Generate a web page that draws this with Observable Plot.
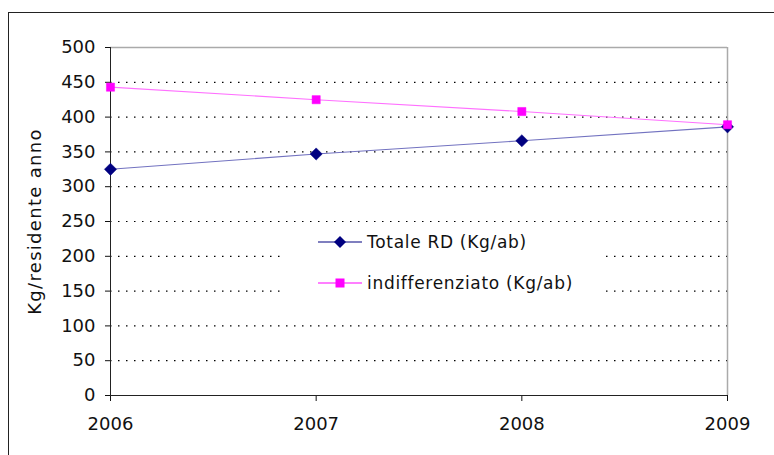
<!DOCTYPE html>
<html>
<head>
<meta charset="utf-8">
<script src="https://cdn.jsdelivr.net/npm/d3@7"></script>
<script src="https://cdn.jsdelivr.net/npm/@observablehq/plot@0.6"></script>
<style>
  html, body { margin: 0; padding: 0; background: #fff; overflow: hidden; }
  #wrap { position: relative; width: 774px; height: 455px; overflow: hidden; }
  #frame { position: absolute; left: 8px; top: 12px; width: 800px; height: 500px; border: 1.5px solid #222; box-sizing: border-box; pointer-events: none; }
  #legend { position: absolute; left: 280px; top: 222px; width: 322px; height: 76px; background: #fff; font-family: "DejaVu Sans", Verdana, sans-serif; font-size: 17px; color: #111; letter-spacing: 0.7px; }
  .item { position: absolute; left: 38px; display: flex; align-items: center; }
  .item svg { margin-right: 5px; }
</style>
</head>
<body>
<div id="wrap">
  <div id="chart"></div>
  <div id="legend"></div>
  <div id="frame"></div>
</div>
<script>
const years = [2006, 2007, 2008, 2009];
const totaleRD = [325, 347, 366, 386];
const indifferenziato = [443, 425, 408, 389];
const seriesNames = ["Totale RD (Kg/ab)", "indifferenziato (Kg/ab)"];
const yTicks = [0, 50, 100, 150, 200, 250, 300, 350, 400, 450, 500];
const gridTicks = [50, 100, 150, 200, 250, 300, 350, 400, 450];

const blue = years.map((y, i) => ({year: y, value: totaleRD[i]}));
const pink = years.map((y, i) => ({year: y, value: indifferenziato[i]}));

const chart = Plot.plot({
  width: 774,
  height: 455,
  marginLeft: 110,
  marginRight: 47,
  marginTop: 47,
  marginBottom: 60,
  style: {fontFamily: "'DejaVu Sans', Verdana, sans-serif", fontSize: "18px", color: "#111", background: "transparent"},
  x: {type: "linear", domain: [2006, 2009]},
  y: {domain: [0, 500]},
  marks: [
    Plot.ruleY(gridTicks, {stroke: "#000", strokeWidth: 1.2, strokeDasharray: "1.5,6.5"}),
    Plot.ruleY([500], {stroke: "#aaa", strokeWidth: 1.5}),
    Plot.ruleX([2009], {stroke: "#aaa", strokeWidth: 1.5}),
    Plot.axisY({ticks: yTicks, tickSize: 5, tickPadding: 10, label: "Kg/residente anno", labelAnchor: "center", labelArrow: "none", labelOffset: 82, fontSize: 18}),
    Plot.axisX({ticks: years, tickFormat: "d", tickSize: 6, tickPadding: 16, label: null, fontSize: 18}),
    Plot.ruleY([0], {stroke: "#222", strokeWidth: 1}),
    Plot.ruleX([2006], {stroke: "#222", strokeWidth: 1}),
    Plot.line(pink, {x: "year", y: "value", stroke: "#ff70ff", strokeWidth: 1.1}),
    Plot.line(blue, {x: "year", y: "value", stroke: "#7272c0", strokeWidth: 1.1}),
    Plot.dot(blue, {x: "year", y: "value", symbol: "diamond2", r: 5.5, fill: "#000080", stroke: "#000080", strokeWidth: 0.5}),
    Plot.dot(pink, {x: "year", y: "value", symbol: "square2", r: 5.2, fill: "#ff00ff", stroke: "#ff00ff", strokeWidth: 0.5})
  ]
});
d3.select(chart).selectAll('[aria-label="y-axis label"] text').style("letter-spacing", "1.3px");
document.getElementById("chart").appendChild(chart);

// Legend (HTML overlay)
const legend = document.getElementById("legend");
const specs = [
  {name: seriesNames[0], color: "#000080", shape: "diamond"},
  {name: seriesNames[1], color: "#ff00ff", shape: "square"}
];
specs.forEach((s, i) => {
  const div = document.createElement("div");
  div.className = "item";
  div.style.top = (i === 0 ? 10 : 51) + "px";
  const marker = s.shape === "diamond"
    ? `<polygon points="22,1 28,7 22,13 16,7" fill="${s.color}"/>`
    : `<rect x="17.5" y="2.5" width="9" height="9" fill="${s.color}"/>`;
  div.innerHTML = `<svg width="44" height="14"><line x1="0" x2="44" y1="7" y2="7" stroke="${s.color}" stroke-width="1.2"/>${marker}</svg><span>${s.name}</span>`;
  legend.appendChild(div);
});
</script>
</body>
</html>
